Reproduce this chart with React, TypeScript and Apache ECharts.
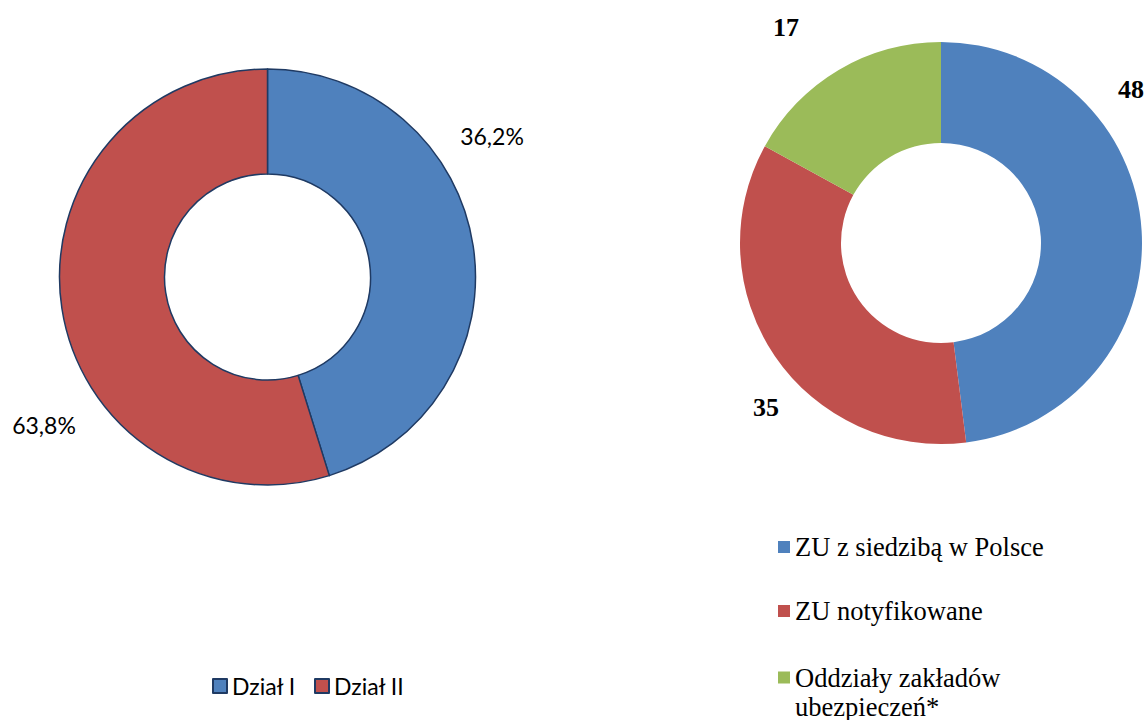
import React, { useEffect, useRef } from "react";
import * as echarts from "echarts";

// Left donut: Dział I / Dział II
const leftCategories = ["Dział I", "Dział II"];
const leftShares = [45.2, 54.8]; // slice sizes as drawn in the picture
const leftLabelTexts = ["36,2%", "63,8%"]; // labels as printed

// Right donut
const rightCategories = [
  "ZU z siedzibą w Polsce",
  "ZU notyfikowane",
  "Oddziały zakładów ubezpieczeń*",
];
const rightValues = [48, 35, 17];

const COLORS = ["#4F81BD", "#C0504D", "#9BBB59"];

export default function App() {
  const ref = useRef<HTMLDivElement>(null);
  useEffect(() => {
    if (!ref.current) return;
    const chart = echarts.init(ref.current, undefined, { renderer: "svg" });
    const leftLabelPos = [
      [492, 136],
      [44, 425],
    ];
    const rightLabelPos = [
      [1131, 89],
      [766, 407],
      [786, 27],
    ];
    const serifText = {
      fontFamily: "Liberation Serif",
      fontSize: 26.5,
      lineHeight: 31,
      color: "#000",
    };
    chart.setOption({
      animation: false,
      backgroundColor: "#ffffff",
      legend: [
        {
          orient: "horizontal",
          left: 212,
          top: 672,
          padding: 0,
          itemWidth: 14,
          itemHeight: 14,
          itemGap: 18,
          icon: "rect",
          data: leftCategories,
          textStyle: {
            fontFamily: "Lato",
            fontSize: 23,
            lineHeight: 28,
            color: "#000",
          },
        },
        {
          orient: "vertical",
          left: 778,
          top: 531.5,
          padding: 0,
          itemWidth: 12,
          itemHeight: 12,
          itemGap: 33,
          icon: "rect",
          data: rightCategories.slice(0, 2),
          textStyle: serifText,
        },
        {
          orient: "vertical",
          left: 778,
          top: 634,
          padding: 0,
          itemWidth: 12,
          itemHeight: 12,
          icon: "rect",
          data: rightCategories.slice(2),
          // an empty first line keeps the icon level with the first text line
          formatter: (name: string) =>
            " \n" + name.replace(" ubezpieczeń", "\nubezpieczeń"),
          textStyle: { ...serifText, lineHeight: 29 },
        },
      ],
      series: [
        {
          type: "pie",
          center: [267.5, 277],
          radius: [103, 208],
          startAngle: 90,
          clockwise: true,
          avoidLabelOverlap: false,
          itemStyle: { borderColor: "#1F3A63", borderWidth: 1.5 },
          label: {
            show: true,
            position: "outside",
            fontFamily: "Lato",
            fontSize: 23,
            color: "#000",
            formatter: (p: any) => leftLabelTexts[p.dataIndex],
          },
          labelLine: { show: false },
          labelLayout: (p: any) => ({
            x: leftLabelPos[p.dataIndex][0],
            y: leftLabelPos[p.dataIndex][1],
            align: "center",
            verticalAlign: "middle",
          }),
          data: leftCategories.map((name, i) => ({
            name,
            value: leftShares[i],
            itemStyle: { color: COLORS[i] },
          })),
        },
        {
          type: "pie",
          center: [941, 243],
          radius: [100, 201],
          startAngle: 90,
          clockwise: true,
          avoidLabelOverlap: false,
          itemStyle: { borderWidth: 0 },
          label: {
            show: true,
            position: "outside",
            fontFamily: "Liberation Serif",
            fontWeight: "bold",
            fontSize: 26,
            color: "#000",
            formatter: (p: any) => String(p.value),
          },
          labelLine: { show: false },
          labelLayout: (p: any) => ({
            x: rightLabelPos[p.dataIndex][0],
            y: rightLabelPos[p.dataIndex][1],
            align: "center",
            verticalAlign: "middle",
          }),
          data: rightCategories.map((name, i) => ({
            name,
            value: rightValues[i],
            itemStyle: { color: COLORS[i] },
          })),
        },
      ],
    });
    return () => chart.dispose();
  }, []);
  return (
    <div
      ref={ref}
      style={{ position: "absolute", left: 0, top: 0, width: 1148, height: 720 }}
    />
  );
}
